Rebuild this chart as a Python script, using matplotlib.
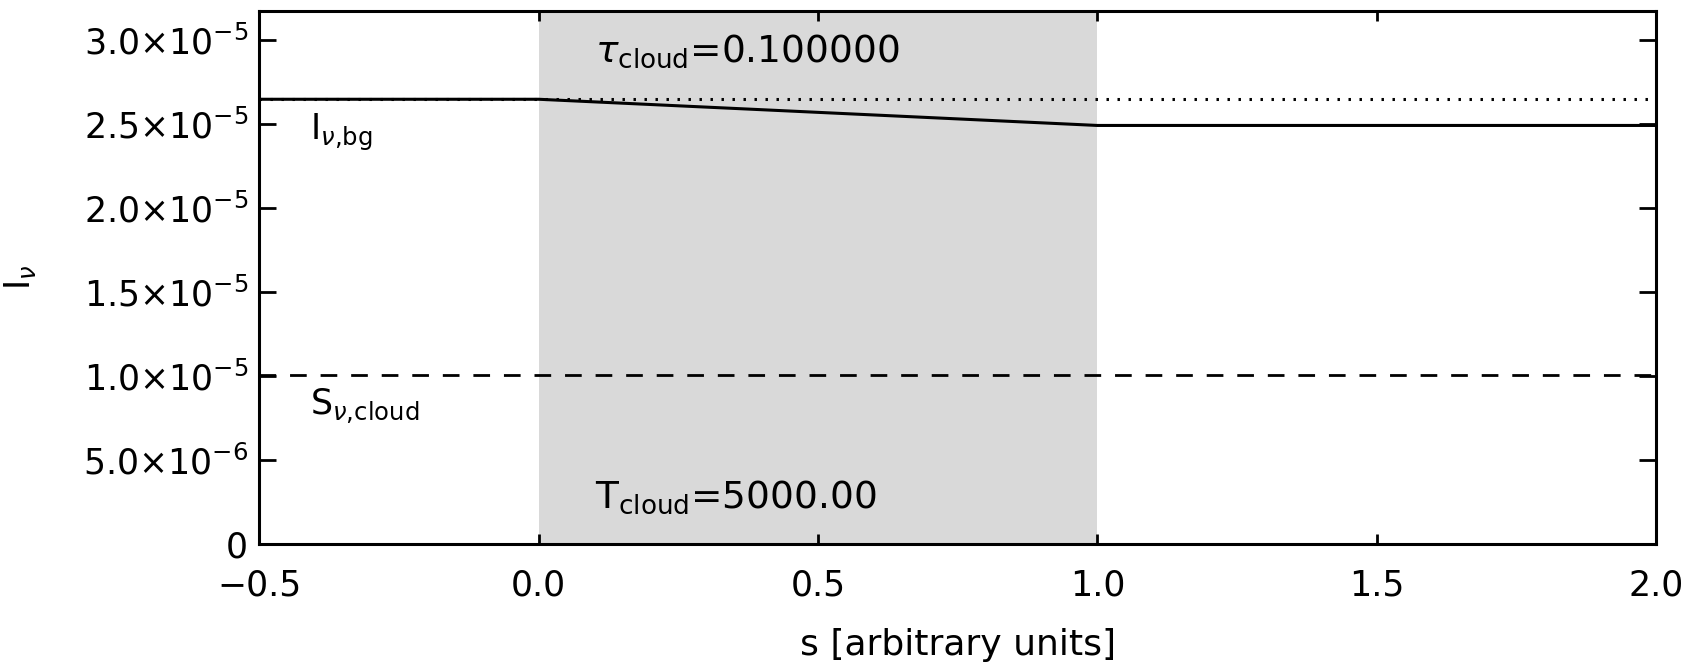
import matplotlib
matplotlib.use("Agg")
import matplotlib.pyplot as plt
from matplotlib.ticker import FixedLocator, FixedFormatter

# Data
s_path = [-0.5, 0.0, 1.0, 2.0]
I_path = [2.648e-5, 2.648e-5, 2.492e-5, 2.492e-5]
I_bg = 2.648e-5
S_cloud = 1.006e-5
cloud_range = [0.0, 1.0]
tau_cloud = "0.100000"
T_cloud = "5000.00"

xticks = [-0.5, 0.0, 0.5, 1.0, 1.5, 2.0]
xticklabels = ["\u22120.5", "0.0", "0.5", "1.0", "1.5", "2.0"]
yticks = [0, 5e-6, 1e-5, 1.5e-5, 2e-5, 2.5e-5, 3e-5]
yticklabels = ["0", r"5.0$\times$10$^{-6}$", r"1.0$\times$10$^{-5}$", r"1.5$\times$10$^{-5}$",
               r"2.0$\times$10$^{-5}$", r"2.5$\times$10$^{-5}$", r"3.0$\times$10$^{-5}$"]

plt.rcParams['font.family'] = ['DejaVu Sans']
plt.rcParams['mathtext.fontset'] = 'dejavusans'

fig = plt.figure(figsize=(16.95, 6.66), dpi=100)
ax = fig.add_axes([0.153, 0.1835, 0.824, 0.8003])

ax.axvspan(cloud_range[0], cloud_range[1], color='#d9d9d9', lw=0, zorder=0)
ax.axhline(I_bg, color='black', lw=2.2, linestyle=(0, (0.8, 2.8)), zorder=2)
ax.axhline(S_cloud, color='black', lw=2, linestyle=(0, (6, 5)), zorder=2)
ax.plot(s_path, I_path, color='black', lw=2.2, zorder=3)

ax.set_xlim(-0.5, 2.0)
ax.set_ylim(0, 3.175e-5)

ax.xaxis.set_major_locator(FixedLocator(xticks))
ax.xaxis.set_major_formatter(FixedFormatter(xticklabels))
ax.yaxis.set_major_locator(FixedLocator(yticks))
ax.yaxis.set_major_formatter(FixedFormatter(yticklabels))

ax.tick_params(axis='x', direction='in', length=7, width=2, top=True, bottom=True,
               labelsize=25, pad=18)
ax.tick_params(axis='y', direction='in', length=12, width=2, left=True, right=True,
               labelsize=25, pad=8)
for sp in ax.spines.values():
    sp.set_linewidth(2.2)
    sp.set_zorder(5)

ax.set_xlabel("s [arbitrary units]", fontsize=26, labelpad=18)
ax.set_ylabel(r"I$_\nu$", fontsize=25, labelpad=32)

ax.text(0.1, 2.935e-5, r"$\tau_{\mathrm{cloud}}$=" + tau_cloud, fontsize=27,
        ha='left', va='center')
ax.text(0.1, 0.28e-5, r"T$_{\mathrm{cloud}}$=" + T_cloud, fontsize=27,
        ha='left', va='center')
ax.text(-0.41, 2.45e-5, r"I$_{\nu{,}\mathrm{bg}}$", fontsize=25, ha='left', va='center')
ax.text(-0.41, 0.82e-5, r"S$_{\nu{,}\mathrm{cloud}}$", fontsize=25, ha='left', va='center')

fig.savefig("out.png", dpi=100)
